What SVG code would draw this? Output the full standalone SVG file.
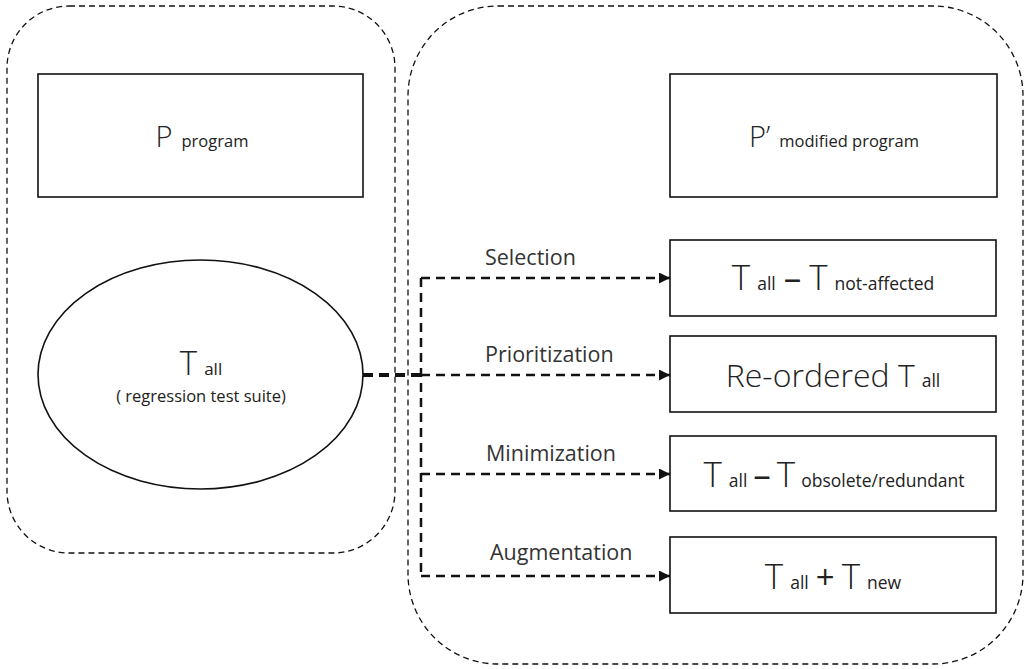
<svg xmlns="http://www.w3.org/2000/svg" width="1025" height="669" viewBox="0 0 1025 669">
  <style>
    .cont { fill: none; stroke: #111; stroke-width: 1.3; stroke-dasharray: 6 4; }
    .box { fill: #fff; stroke: #111; stroke-width: 1.6; }
    .t { font-family: "Open Sans", "Liberation Sans", sans-serif; fill: #222; }
    .big { font-weight: 300; }
    .op { font-weight: 400; }
    .lbl { font-family: "Open Sans", "Liberation Sans", sans-serif; fill: #333; font-size: 21.5px; }
    .arr { fill: none; stroke: #111; stroke-width: 2.5; stroke-dasharray: 9 6; }
  </style>
  <defs>
    <marker id="ah" viewBox="0 0 10 10" refX="10" refY="5" markerWidth="4.4" markerHeight="4.4" orient="auto" markerUnits="strokeWidth">
      <path d="M0,0 L10,5 L0,10 Z" fill="#111"/>
    </marker>
  </defs>
  <rect width="1025" height="669" fill="#fff"/>

  <g id="container-left">
    <rect class="cont" x="7" y="6" width="388" height="547" rx="62" ry="62"/>
  </g>
  <g id="container-right">
    <rect class="cont" x="408" y="6" width="615" height="658" rx="90" ry="90"/>
  </g>

  <g id="node-p">
    <rect class="box" x="38" y="74" width="325" height="123"/>
    <text class="t" x="202" y="147" text-anchor="middle"><tspan class="big" font-size="29">P</tspan><tspan dx="9" font-size="16.5">program</tspan></text>
  </g>

  <g id="node-pprime">
    <rect class="box" x="670" y="74" width="327" height="123"/>
    <text class="t" x="834" y="147" text-anchor="middle"><tspan class="big" font-size="29">P’</tspan><tspan dx="9" font-size="16.5">modified program</tspan></text>
  </g>

  <g id="node-tall">
    <ellipse cx="200.5" cy="374.5" rx="162.5" ry="114.5" fill="#fff" stroke="#111" stroke-width="1.6"/>
    <text class="t" x="201" y="375" text-anchor="middle"><tspan class="big" font-size="33">T</tspan><tspan dx="7" font-size="17">all</tspan></text>
    <text class="t" x="201" y="402" text-anchor="middle" font-size="16.5">( regression test suite)</text>
  </g>

  <g id="node-selection">
    <rect class="box" x="670" y="240" width="326" height="76"/>
    <text class="t" x="833" y="290" text-anchor="middle"><tspan class="big" font-size="35">T</tspan><tspan dx="7" font-size="17.5">all</tspan><tspan dx="8" class="op" font-size="35">–</tspan><tspan dx="8" class="big" font-size="35">T</tspan><tspan dx="7" font-size="17.5">not-affected</tspan></text>
  </g>

  <g id="node-prioritization">
    <rect class="box" x="670" y="336" width="326" height="76"/>
    <text class="t" x="833" y="387" text-anchor="middle"><tspan class="big" font-size="32">Re-ordered T</tspan><tspan dx="7" font-size="17.5">all</tspan></text>
  </g>

  <g id="node-minimization">
    <rect class="box" x="670" y="436" width="326" height="75"/>
    <text class="t" x="834" y="487" text-anchor="middle"><tspan class="big" font-size="35">T</tspan><tspan dx="7" font-size="17.5">all</tspan><tspan dx="6" class="op" font-size="35">–</tspan><tspan dx="6" class="big" font-size="35">T</tspan><tspan dx="6" font-size="17.5">obsolete/redundant</tspan></text>
  </g>

  <g id="node-augmentation">
    <rect class="box" x="670" y="537" width="326" height="76"/>
    <text class="t" x="833" y="589" text-anchor="middle"><tspan class="big" font-size="35">T</tspan><tspan dx="7" font-size="17.5">all</tspan><tspan dx="7" class="op" font-size="33">+</tspan><tspan dx="7" class="big" font-size="35">T</tspan><tspan dx="7" font-size="17.5">new</tspan></text>
  </g>

  <g id="connectors">
    <line x1="363" y1="375" x2="421" y2="375" stroke="#111" stroke-width="4" stroke-dasharray="10 6"/>
    <line class="arr" x1="421" y1="278" x2="421" y2="577"/>
    <line class="arr" x1="421" y1="278" x2="670" y2="278" marker-end="url(#ah)"/>
    <line class="arr" x1="421" y1="375" x2="670" y2="375" marker-end="url(#ah)"/>
    <line class="arr" x1="421" y1="474" x2="670" y2="474" marker-end="url(#ah)"/>
    <line class="arr" x1="421" y1="576" x2="670" y2="576" marker-end="url(#ah)"/>
    <text class="lbl" x="485" y="265">Selection</text>
    <text class="lbl" x="485" y="362">Prioritization</text>
    <text class="lbl" x="486" y="461">Minimization</text>
    <text class="lbl" x="490" y="560">Augmentation</text>
  </g>
</svg>
